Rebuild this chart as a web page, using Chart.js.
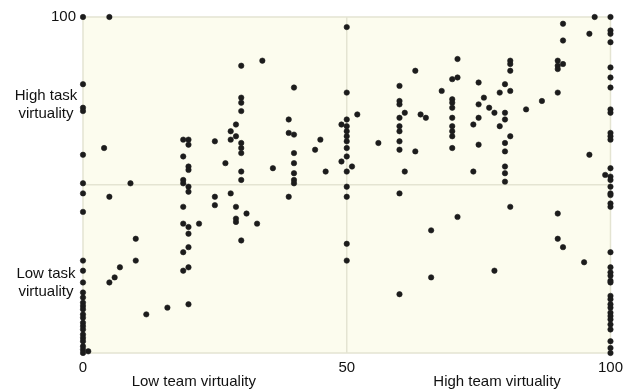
<!DOCTYPE html>
<html>
<head>
<meta charset="utf-8">
<script src="https://cdn.jsdelivr.net/npm/chart.js@4.4.0/dist/chart.umd.min.js"></script>
<style>
  html, body { margin: 0; padding: 0; background: #ffffff; }
  #wrap { width: 629px; height: 392px; position: relative; }
</style>
</head>
<body>
<div id="wrap"><canvas id="virtualityChart" width="629" height="392"></canvas></div>
<script>
// team virtuality (x) / task virtuality (y)
const teamVirtuality = [
  0, 0, 0, 0, 0, 0, 0, 0, 0, 0, 0, 0, 0, 0, 0, 0, 0, 0, 0, 0, 0, 0, 0, 0, 0, 0, 0, 1,
  5, 4, 9, 5, 10, 10, 7, 6, 5, 12, 16, 20,
  19, 20, 20, 19, 20, 20, 19, 19, 20, 20, 19, 19, 20, 20, 19, 20, 19, 20, 22,
  25, 25, 25, 27, 28, 28, 29, 29, 30, 30, 30, 30, 30, 30, 30, 30, 30, 34, 36, 28, 29, 29, 29, 31, 33, 30,
  39, 40, 39, 39, 40, 40, 40, 40, 40, 40, 44, 45, 46,
  50, 50, 50, 50, 50, 50, 50, 50, 50, 50, 50, 50, 50, 50, 49, 49, 51, 52,
  56, 60, 60, 60, 61, 60, 60, 60, 60, 60, 61, 60, 64, 65, 63, 63, 60, 66, 66,
  68, 71, 70, 71, 70, 70, 70, 70, 70, 70, 70, 70, 71, 75, 76, 75, 77, 78, 75, 74, 75, 74,
  79, 80, 81, 81, 81, 81, 80, 80, 79, 81, 80, 80, 80, 80, 80, 81, 78,
  84, 87, 90, 90, 90, 90, 91, 91, 91, 96, 97, 96, 99, 90, 90, 91, 95,
  100, 100, 100, 100, 100, 100, 100, 100, 100, 100, 100, 100, 100, 100, 100, 100, 100, 100, 100,
  100, 100, 100, 100, 100, 100, 100, 100, 100, 100, 100, 100, 100, 100, 100, 100, 100, 100, 100
];
const taskVirtuality = [
  100, 80, 73, 72, 59, 50.5, 47.5, 42, 27.5, 24.5, 21, 18, 16.5, 15, 14, 13, 11.5, 10.5, 9, 8, 7, 5.5, 4.5, 3.5, 2, 1, 0, 0.5,
  100, 61, 50.5, 46.5, 34, 27.5, 25.5, 22.5, 21, 11.5, 13.5, 14.5,
  63.5, 63.5, 62, 58.5, 55.5, 54.5, 51.5, 50.5, 49.5, 48, 43.5, 38.5, 37.5, 35.5, 30, 31.5, 24.5, 25.5, 38.5,
  63, 46.5, 44, 56.5, 66, 63.5, 68, 64.5, 85.5, 76, 74.5, 72, 62.5, 61, 59.5, 54, 51.5, 87, 55, 47.5, 43.5, 40, 39, 41.5, 38.5, 33.5,
  46.5, 79, 69.5, 65.5, 65, 59.5, 56.5, 53.5, 51.5, 50.5, 60.5, 63.5, 54,
  97, 77.5, 69.5, 67.5, 66, 64.5, 63, 61, 58.5, 54, 49.5, 46.5, 32.5, 27.5, 68, 57, 55.5, 71,
  62.5, 79.5, 75, 74, 71.5, 70, 67.5, 66, 63, 60.5, 54, 47.5, 71, 70, 84, 60, 17.5, 36.5, 22.5,
  78, 87.5, 81.5, 82, 75.5, 74.5, 73, 70, 67.5, 66, 64.5, 61, 40.5, 80.5, 76, 74, 73, 71.5, 70, 68, 62, 54,
  77.5, 80, 78, 87, 86, 84, 71.5, 69.5, 67.5, 64.5, 62.5, 60, 55.5, 53.5, 51, 43.5, 24.5,
  72.5, 75, 77.5, 87, 85.5, 84.5, 86, 98, 93, 95, 100, 59, 53, 41.5, 34, 31.5, 27,
  100, 96, 95, 92.5, 85, 82, 79, 72.5, 71.5, 65.5, 64.5, 63.5, 55, 52.5, 51.5, 49.5, 47.5, 47, 44.5,
  43.5, 30, 25.5, 24, 23, 21.5, 21, 17, 16, 14.5, 13.5, 12, 11, 10, 8.5, 7, 3.5, 1.5, 0
];

const xTickLabels = ['0', '50', '100'];
const yTickLabels = ['100'];
const xAxisLabels = [['Low team virtuality', 21], ['High team virtuality', 78.5]];
const yAxisLabels = [[['High task', 'virtuality'], 74], [['Low task', 'virtuality'], 21]];

const points = teamVirtuality.map((x, i) => ({ x: x, y: taskVirtuality[i] }));

const fontFamily = '"Liberation Sans", Arial, Helvetica, sans-serif';
const gridColor = '#e4e4d2';

const plotBackground = {
  id: 'plotBackground',
  beforeDraw(chart) {
    const { ctx, chartArea: a } = chart;
    ctx.save();
    ctx.fillStyle = '#fcfcee';
    ctx.fillRect(a.left, a.top, a.right - a.left, a.bottom - a.top);
    ctx.strokeStyle = gridColor;
    ctx.lineWidth = 1.5;
    ctx.strokeRect(a.left, a.top, a.right - a.left, a.bottom - a.top);
    ctx.restore();
  }
};

const axisWords = {
  id: 'axisWords',
  afterDraw(chart) {
    const { ctx, chartArea: a } = chart;
    const xs = chart.scales.x, ys = chart.scales.y;
    ctx.save();
    ctx.fillStyle = '#111111';
    ctx.font = '15px ' + fontFamily;
    ctx.textAlign = 'center';
    ctx.textBaseline = 'middle';
    xAxisLabels.forEach(([txt, v]) => {
      ctx.fillText(txt, xs.getPixelForValue(v), a.bottom + 29);
    });
    yAxisLabels.forEach(([lines, v]) => {
      const yc = ys.getPixelForValue(v);
      ctx.fillText(lines[0], 46, yc - 9);
      ctx.fillText(lines[1], 46, yc + 9);
    });
    ctx.restore();
  }
};

const ctx = document.getElementById('virtualityChart').getContext('2d');
const virtualityChart = new Chart(ctx, {
  type: 'scatter',
  data: {
    datasets: [{
      data: points,
      pointStyle: 'circle',
      pointRadius: 2.7,
      pointBackgroundColor: '#1c1c1c',
      pointBorderColor: '#1c1c1c',
      pointBorderWidth: 0.6,
      clip: false
    }]
  },
  options: {
    responsive: false,
    animation: false,
    layout: { padding: { top: 17, right: 17, left: 0, bottom: 0 } },
    plugins: {
      legend: { display: false },
      tooltip: { enabled: false }
    },
    scales: {
      x: {
        type: 'linear',
        min: 0,
        max: 100,
        afterFit(scale) { scale.height = 39; },
        border: { display: false },
        grid: {
          drawTicks: false,
          color: c => (c.tick && c.tick.value === 50 ? gridColor : 'transparent'),
          lineWidth: 1.5
        },
        ticks: {
          stepSize: 50,
          padding: 6,
          color: '#111111',
          font: { family: fontFamily, size: 15 },
          callback: v => (xTickLabels.includes(String(v)) ? String(v) : '')
        }
      },
      y: {
        type: 'linear',
        min: 0,
        max: 100,
        afterFit(scale) { scale.width = 83; },
        border: { display: false },
        grid: {
          drawTicks: false,
          color: c => (c.tick && c.tick.value === 50 ? gridColor : 'transparent'),
          lineWidth: 1.5
        },
        ticks: {
          stepSize: 50,
          padding: 7,
          color: '#111111',
          font: { family: fontFamily, size: 15 },
          callback: v => (yTickLabels.includes(String(v)) ? String(v) : '')
        }
      }
    }
  },
  plugins: [plotBackground, axisWords]
});
</script>
</body>
</html>
